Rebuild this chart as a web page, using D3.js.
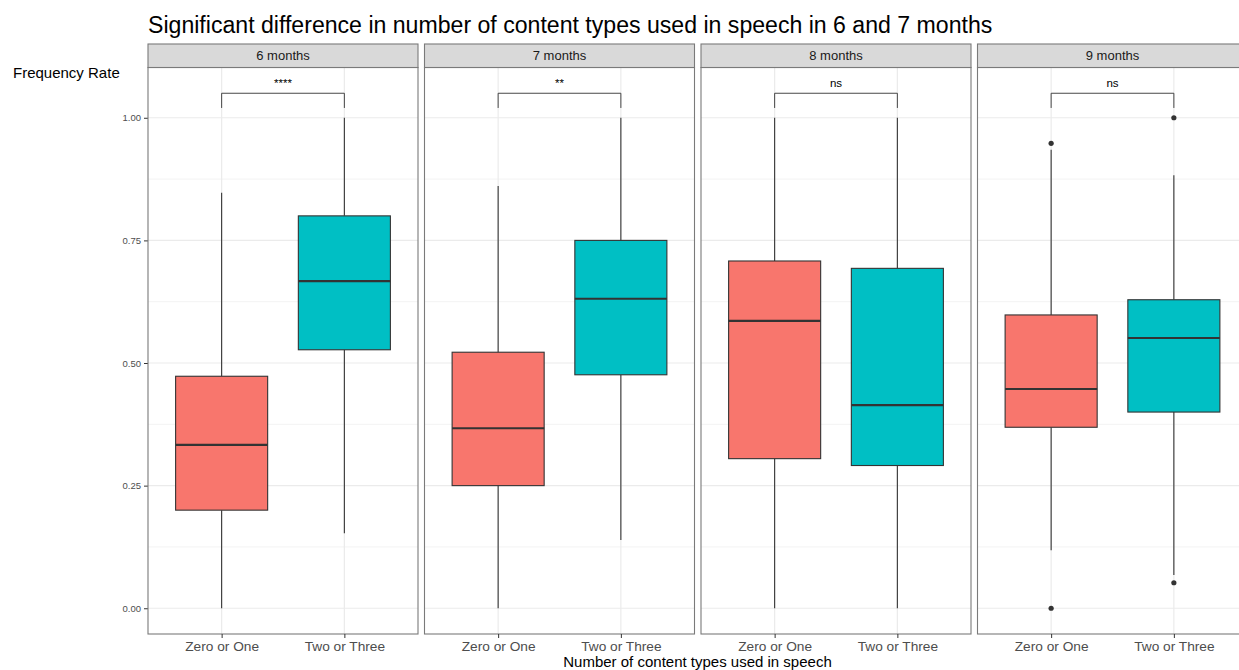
<!DOCTYPE html>
<html>
<head>
<meta charset="utf-8">
<script src="https://cdn.jsdelivr.net/npm/d3@7"></script>
<style>
  html, body { margin: 0; padding: 0; background: #fff; }
  svg { display: block; font-family: "Liberation Sans", Arial, Helvetica, sans-serif; }
</style>
</head>
<body>
<svg id="chart" width="1239" height="670"></svg>
<script>
// Facets (age) and groups (content types used)
const months = ["6 months", "7 months", "8 months", "9 months"];
const groups = ["Zero or One", "Two or Three"];
const groupColors = ["#F8766D", "#00BFC4"];

// Box statistics per facet, one entry per group: [Zero or One, Two or Three]
const whiskerLow = [[0.000, 0.153], [0.000, 0.139], [0.000, 0.000], [0.118, 0.068]];
const q1         = [[0.200, 0.527], [0.250, 0.476], [0.305, 0.291], [0.369, 0.400]];
const medians    = [[0.333, 0.667], [0.367, 0.631], [0.586, 0.414], [0.447, 0.551]];
const q3         = [[0.473, 0.800], [0.522, 0.750], [0.708, 0.693], [0.598, 0.629]];
const whiskerHigh= [[0.847, 1.000], [0.861, 1.000], [1.000, 1.000], [0.935, 0.883]];
const outliers   = [[[], []], [[], []], [[], []], [[0.948, 0.000], [1.000, 0.052]]];

// Significance of the Zero-or-One vs Two-or-Three comparison per facet
const signif = ["****", "**", "ns", "ns"];
const bracketY = 1.05, bracketLegY = 1.02;

const yTicks = [0, 0.25, 0.5, 0.75, 1.0];
const yMinor = [0.125, 0.375, 0.625, 0.875];

const svg = d3.select("#chart");

const panelLeft = 148, panelW = 270, panelGap = 6.5;
const stripTop = 44, stripBottom = 67.5, panelBottom = 634;

const y = d3.scaleLinear().domain([-0.0525, 1.1025]).range([panelBottom, stripBottom]);
const x = d3.scalePoint().domain(groups).range([0, panelW]).padding(0.6);
const boxW = x.step() * 0.75;

// Title
svg.append("text")
  .attr("x", panelLeft).attr("y", 33)
  .attr("font-size", 23.1).attr("fill", "#000")
  .text("Significant difference in number of content types used in speech in 6 and 7 months");

// Y axis title (horizontal)
svg.append("text")
  .attr("x", 13).attr("y", 78)
  .attr("font-size", 15).attr("fill", "#000")
  .text("Frequency Rate");

// X axis title
svg.append("text")
  .attr("x", 697.5).attr("y", 667)
  .attr("text-anchor", "middle")
  .attr("font-size", 15).attr("fill", "#000")
  .text("Number of content types used in speech");

// Y axis (left of first panel)
const yAxis = d3.axisLeft(y).tickValues(yTicks).tickFormat(d3.format(".2f")).tickSize(4).tickPadding(3);
const ya = svg.append("g").attr("transform", `translate(${panelLeft},0)`).call(yAxis);
ya.select(".domain").remove();
ya.selectAll(".tick line").attr("stroke", "#333").attr("stroke-width", 1);
ya.selectAll(".tick text").attr("fill", "#4d4d4d").attr("font-size", 9.5)
  .attr("font-family", "Liberation Sans, Arial, sans-serif");

months.forEach((m, i) => {
  const px = panelLeft + i * (panelW + panelGap);
  const g = svg.append("g").attr("transform", `translate(${px},0)`);

  // Grid
  g.selectAll(".minor").data(yMinor).enter().append("line")
    .attr("x1", 0).attr("x2", panelW)
    .attr("y1", d => y(d)).attr("y2", d => y(d))
    .attr("stroke", "#F3F3F3").attr("stroke-width", 1);
  g.selectAll(".major").data(yTicks).enter().append("line")
    .attr("x1", 0).attr("x2", panelW)
    .attr("y1", d => y(d)).attr("y2", d => y(d))
    .attr("stroke", "#EBEBEB").attr("stroke-width", 1.2);
  g.selectAll(".vgrid").data(groups).enter().append("line")
    .attr("x1", d => x(d)).attr("x2", d => x(d))
    .attr("y1", stripBottom).attr("y2", panelBottom)
    .attr("stroke", "#EBEBEB").attr("stroke-width", 1.2);

  // Boxplots
  groups.forEach((grp, j) => {
    const cx = x(grp);
    g.append("line")
      .attr("x1", cx).attr("x2", cx)
      .attr("y1", y(q3[i][j])).attr("y2", y(whiskerHigh[i][j]))
      .attr("stroke", "#333").attr("stroke-width", 1.1);
    g.append("line")
      .attr("x1", cx).attr("x2", cx)
      .attr("y1", y(q1[i][j])).attr("y2", y(whiskerLow[i][j]))
      .attr("stroke", "#333").attr("stroke-width", 1.1);
    g.append("rect")
      .attr("x", cx - boxW / 2).attr("width", boxW)
      .attr("y", y(q3[i][j])).attr("height", y(q1[i][j]) - y(q3[i][j]))
      .attr("fill", groupColors[j]).attr("stroke", "#333").attr("stroke-width", 1.1);
    g.append("line")
      .attr("x1", cx - boxW / 2).attr("x2", cx + boxW / 2)
      .attr("y1", y(medians[i][j])).attr("y2", y(medians[i][j]))
      .attr("stroke", "#333").attr("stroke-width", 2.2);
    outliers[i][j].forEach(v => {
      g.append("circle").attr("cx", cx).attr("cy", y(v)).attr("r", 2.6).attr("fill", "#333");
    });
  });

  // Significance bracket
  const bx1 = x(groups[0]), bx2 = x(groups[1]);
  g.append("path")
    .attr("d", `M${bx1},${y(bracketLegY)}V${y(bracketY)}H${bx2}V${y(bracketLegY)}`)
    .attr("fill", "none").attr("stroke", "#333").attr("stroke-width", 0.9);
  g.append("text")
    .attr("x", (bx1 + bx2) / 2).attr("y", y(bracketY) - 6)
    .attr("text-anchor", "middle").attr("font-size", 11.5).attr("fill", "#000")
    .text(signif[i]);

  // Panel border
  g.append("rect")
    .attr("x", 0).attr("y", stripBottom).attr("width", panelW).attr("height", panelBottom - stripBottom)
    .attr("fill", "none").attr("stroke", "#7a7a7a").attr("stroke-width", 1.1);

  // Strip
  g.append("rect")
    .attr("x", 0).attr("y", stripTop).attr("width", panelW).attr("height", stripBottom - stripTop)
    .attr("fill", "#D9D9D9").attr("stroke", "#7a7a7a").attr("stroke-width", 1.1);
  g.append("text")
    .attr("x", panelW / 2).attr("y", (stripTop + stripBottom) / 2 + 4.5)
    .attr("text-anchor", "middle").attr("font-size", 13).attr("fill", "#1a1a1a")
    .text(m);

  // X axis
  const xa = g.append("g").attr("transform", `translate(0,${panelBottom})`)
    .call(d3.axisBottom(x).tickSize(4).tickPadding(3));
  xa.select(".domain").remove();
  xa.selectAll(".tick line").attr("stroke", "#333");
  xa.selectAll(".tick text").attr("fill", "#4d4d4d").attr("font-size", 13.7)
    .attr("font-family", "Liberation Sans, Arial, sans-serif");
});
</script>
</body>
</html>
